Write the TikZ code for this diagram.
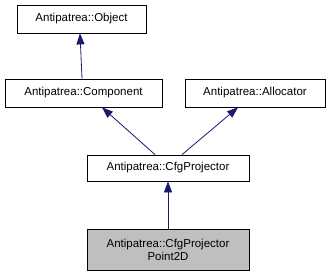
\documentclass[tikz,border=0pt]{standalone}
\usepackage{fontspec}
\setmainfont{Liberation Sans}
\usetikzlibrary{arrows.meta}
\definecolor{edgeblue}{HTML}{191970}
\definecolor{leafgray}{HTML}{BFBFBF}
\begin{document}
\begin{tikzpicture}[x=1pt,y=1pt,
  classbox/.style={draw=black, line width=0.8pt, fill=white, inner sep=0pt,
    minimum height=28pt, font=\fontsize{11.5}{13}\selectfont, align=center},
  inherit/.style={draw=edgeblue, line width=0.8pt,
    {Triangle[length=11pt,width=8pt]}-}]
\useasboundingbox (0,0) rectangle (331,276);
\node[classbox, minimum width=129pt] (obj) at (81.5,257) {Antipatrea::Object};
\node[classbox, minimum width=157pt] (comp) at (83.5,183) {Antipatrea::Component};
\node[classbox, minimum width=140pt] (alloc) at (255,183) {Antipatrea::Allocator};
\node[classbox, minimum width=162pt, minimum height=26pt] (cfg) at (168,108) {Antipatrea::CfgProjector};
\node[classbox, minimum width=162pt, minimum height=41pt, fill=leafgray] (pt) at (168,26.5) {Antipatrea::CfgProjector\\Point2D};
\draw[inherit] ([xshift=-1.5pt]obj.south) -- ([xshift=-1.5pt]comp.north);
\draw[inherit] ([xshift=18.5pt]comp.south) -- ([xshift=-13pt]cfg.north);
\draw[inherit] ([xshift=-17pt]alloc.south) -- ([xshift=14pt]cfg.north);
\draw[inherit] (cfg.south) -- (pt.north);
\end{tikzpicture}
\end{document}
